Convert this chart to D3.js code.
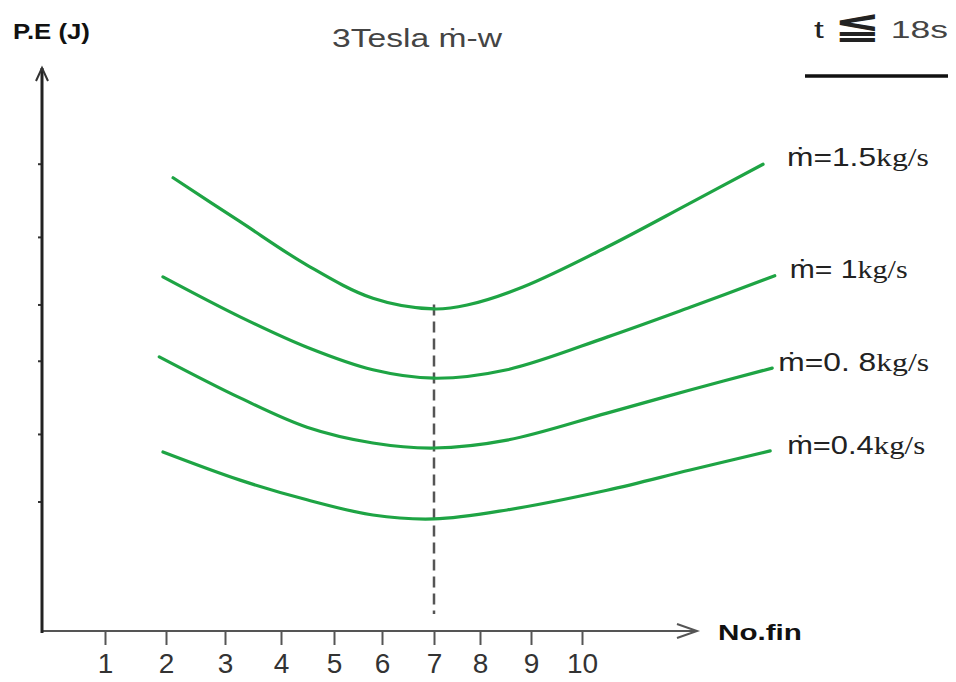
<!DOCTYPE html>
<html lang="en">
<head>
	<meta charset="UTF-8">
	<title>3Tesla m-w</title>
	<script src="https://cdn.jsdelivr.net/npm/d3@7/dist/d3.min.js"></script>
	<style>
		body { margin: 0; background: #fff; }
		text { font-family: "Liberation Sans", Arial, sans-serif; }
	</style>
</head>
<body>
	<div id="vis"></div>

	<script>
		// ---- data ----
		var xTicks = [1, 2, 3, 4, 5, 6, 7, 8, 9, 10];
		var yTicks = [23, 35, 48, 58, 70, 83];   // unlabelled marks on the P.E axis

		var flow15X = [2.12, 3.27, 4.49, 5.81, 7.0, 7.72, 8.84, 10.49, 12.12, 13.55];
		var flow15Y = [80.5, 72.7, 65.0, 59.1, 57.2, 57.9, 61.1, 68.2, 76.0, 82.9];

		var flow10X = [1.95, 3.27, 4.49, 5.81, 7.0, 8.53, 10.49, 12.12, 13.78];
		var flow10Y = [62.9, 55.8, 50.4, 46.4, 44.9, 46.4, 52.2, 57.5, 63.1];

		var flow08X = [1.89, 3.27, 4.49, 5.81, 7.0, 8.53, 10.49, 12.12, 13.73];
		var flow08Y = [48.7, 41.4, 36.2, 33.4, 32.5, 33.9, 38.7, 42.8, 46.7];

		var flow04X = [1.95, 3.27, 4.49, 5.81, 7.0, 8.53, 10.49, 12.12, 13.69];
		var flow04Y = [31.8, 26.8, 23.3, 20.6, 19.9, 21.5, 25.0, 28.6, 32.0];

		var flowNames = ["=1.5", "= 1", "=0. 8", "=0.4"];

		// optimum number of fins (dashed guide)
		var optimumFin = 7;
		var guideTop = 58;
		var guideBottom = 3;

		// ---- layout ----
		var width = 956;
		var height = 682;
		var green = "#1ea444";

		var svg = d3.select("#vis").append("svg")
				.attr("width", width)
				.attr("height", height);

		// the hand drawn axis is not evenly spaced, so the scale is piecewise
		var x = d3.scaleLinear()
				.domain([0, 1, 2, 3, 4, 5, 6, 7, 8, 9, 10])
				.range([42, 105, 166, 225, 281, 334, 382, 434, 480, 531, 582]);

		var y = d3.scaleLinear()
				.domain([0, 100])
				.range([631, 68]);

		var axisRight = 697;

		// x axis: ticks + labels
		var xAxis = d3.axisBottom(x)
				.tickValues(xTicks)
				.tickSize(14)
				.tickPadding(8)
				.tickSizeOuter(0);

		var gx = svg.append("g")
				.attr("transform", "translate(0," + y(0) + ")")
				.call(xAxis);
		gx.select(".domain").remove();
		gx.selectAll(".tick line").attr("stroke", "#555").attr("stroke-width", 2);
		gx.selectAll(".tick text")
				.attr("fill", "#333")
				.attr("font-size", 28)
				.style("font-size", "28px")
				.style("font-family", "'Liberation Sans', Arial, sans-serif");

		// x axis line with open arrow
		svg.append("line")
				.attr("x1", x(0)).attr("x2", axisRight)
				.attr("y1", y(0)).attr("y2", y(0))
				.attr("stroke", "#555").attr("stroke-width", 2);
		svg.append("path")
				.attr("d", "M" + (axisRight - 20) + "," + (y(0) - 7) + "L" + axisRight + "," + y(0) + "L" + (axisRight - 20) + "," + (y(0) + 7))
				.attr("fill", "none").attr("stroke", "#555").attr("stroke-width", 2);

		// y axis: small marks only
		var yAxis = d3.axisLeft(y)
				.tickValues(yTicks)
				.tickSize(4)
				.tickFormat("")
				.tickSizeOuter(0);
		var gy = svg.append("g")
				.attr("transform", "translate(" + x(0) + ",0)")
				.call(yAxis);
		gy.select(".domain").remove();
		gy.selectAll(".tick line").attr("stroke", "#333").attr("stroke-width", 2);

		svg.append("line")
				.attr("x1", x(0)).attr("x2", x(0))
				.attr("y1", y(0) + 2).attr("y2", y(100))
				.attr("stroke", "#222").attr("stroke-width", 3);
		svg.append("path")
				.attr("d", "M" + (x(0) - 6) + "," + (y(100) + 13) + "L" + x(0) + "," + y(100) + "L" + (x(0) + 6) + "," + (y(100) + 13))
				.attr("fill", "none").attr("stroke", "#333").attr("stroke-width", 2);

		// dashed guide at the optimum
		svg.append("line")
				.attr("x1", x(optimumFin)).attr("x2", x(optimumFin))
				.attr("y1", y(guideTop)).attr("y2", y(guideBottom))
				.attr("stroke", "#555").attr("stroke-width", 2.5)
				.attr("stroke-dasharray", "11,6");

		// curves
		var flows = [
			d3.zip(flow15X, flow15Y),
			d3.zip(flow10X, flow10Y),
			d3.zip(flow08X, flow08Y),
			d3.zip(flow04X, flow04Y)
		];

		var line = d3.line()
				.x(function(d) { return x(d[0]); })
				.y(function(d) { return y(d[1]); })
				.curve(d3.curveCatmullRom.alpha(0.5));

		svg.selectAll(".flow")
				.data(flows)
				.enter().append("path")
				.attr("class", "flow")
				.attr("d", line)
				.attr("fill", "none")
				.attr("stroke", green)
				.attr("stroke-width", 3.2)
				.attr("stroke-linecap", "round");

		// stretch a text horizontally to a measured width (the source picture is widened)
		function fitWidth(t, px, py, target) {
			var w = t.node().getComputedTextLength();
			t.attr("x", 0).attr("y", 0)
				.attr("transform", "translate(" + px + "," + py + ") scale(" + (target / w) + ",1)");
		}

		// curve labels
		var labelDx = [24, 15, 6, 17];
		var labelDy = [2, 2, 3, 3];
		var labelW = [142, 118, 151, 138];

		flows.forEach(function(f, i) {
			var last = f[f.length - 1];
			var t = svg.append("text")
					.attr("fill", "#222")
					.style("font-size", "25px");
			t.append("tspan").text("\u1E41" + flowNames[i]);
			t.append("tspan")
					.style("font-family", "'Liberation Serif', 'Times New Roman', serif")
					.text("kg/s");
			fitWidth(t, x(last[0]) + labelDx[i], y(last[1]) + labelDy[i], labelW[i]);
		});

		// axis titles
		var pe = svg.append("text")
				.attr("fill", "#111")
				.style("font-size", "22px")
				.style("font-weight", "bold")
				.text("P.E (J)");
		fitWidth(pe, 13, 39, 77);

		var nf = svg.append("text")
				.attr("fill", "#111")
				.style("font-size", "22px")
				.style("font-weight", "bold")
				.text("No.fin");
		fitWidth(nf, 718, 640, 84);

		// title
		var title = svg.append("text")
				.attr("fill", "#444")
				.style("font-size", "25px")
				.text("3Tesla  \u1E41-w");
		fitWidth(title, 332, 47, 170);

		// time condition, top right
		var tc = svg.append("text")
				.attr("fill", "#222")
				.style("font-size", "24px");
		tc.append("tspan").text("t ");
		tc.append("tspan")
				.style("font-family", "'DejaVu Sans', sans-serif")
				.style("font-weight", "bold")
				.style("font-size", "38px")
				.text("\u2266");
		tc.append("tspan").attr("fill", "#444").text(" 18s");
		fitWidth(tc, 814, 38, 134);

		svg.append("line")
				.attr("x1", 805).attr("x2", 948)
				.attr("y1", 76).attr("y2", 76)
				.attr("stroke", "#111").attr("stroke-width", 3.5);
	</script>
</body>
</html>
